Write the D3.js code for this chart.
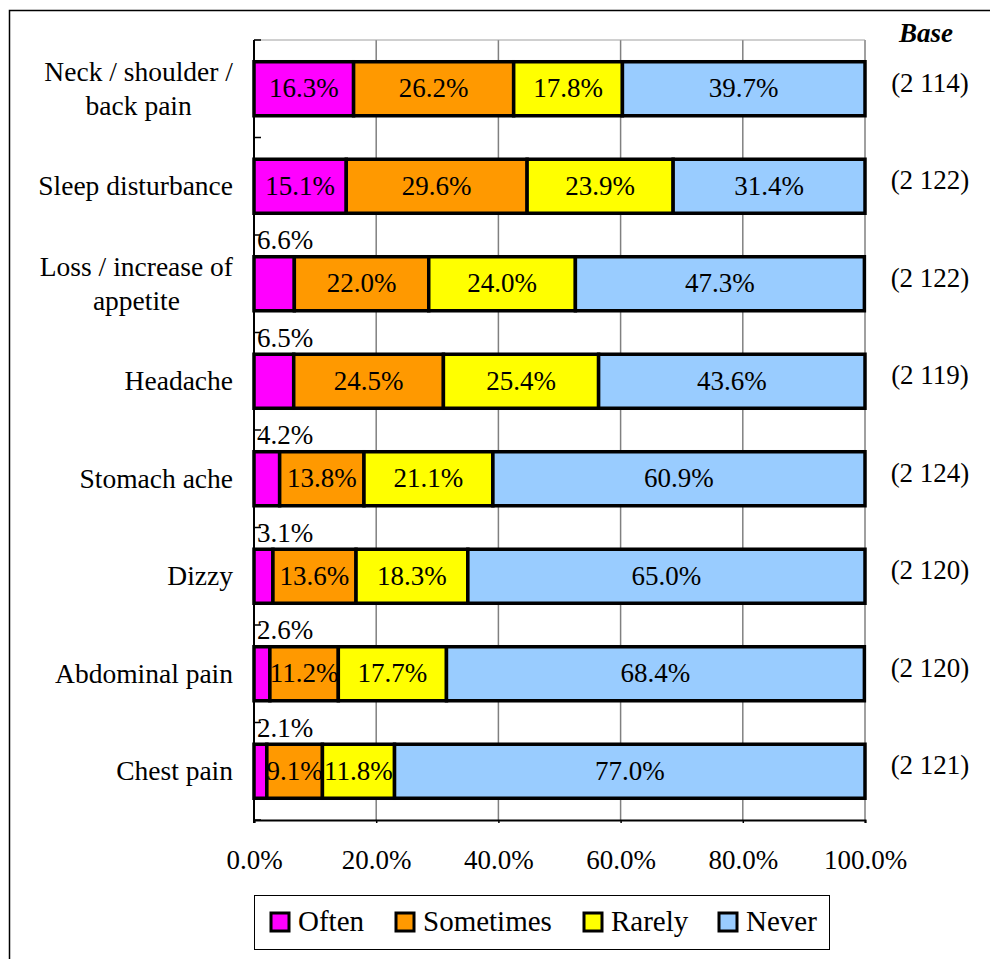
<!DOCTYPE html>
<html>
<head>
<meta charset="utf-8">
<script src="https://cdn.jsdelivr.net/npm/d3@7"></script>
<style>
  body { margin: 0; background: #fff; }
</style>
</head>
<body>
<svg id="chart" width="990" height="959" font-family="'Liberation Serif', 'DejaVu Serif', serif"></svg>
<script>
// categories (top to bottom), label lines split where the original wraps
let categories = ["Neck / shoulder / back pain", "Sleep disturbance", "Loss / increase of appetite",
    "Headache", "Stomach ache", "Dizzy", "Abdominal pain", "Chest pain"];
let labelLines = [["Neck / shoulder /", "back pain"], ["Sleep disturbance"], ["Loss / increase of", "appetite"],
    ["Headache"], ["Stomach ache"], ["Dizzy"], ["Abdominal pain"], ["Chest pain"]];

let often = [16.3, 15.1, 6.6, 6.5, 4.2, 3.1, 2.6, 2.1];
let sometimes = [26.2, 29.6, 22.0, 24.5, 13.8, 13.6, 11.2, 9.1];
let rarely = [17.8, 23.9, 24.0, 25.4, 21.1, 18.3, 17.7, 11.8];
let never = [39.7, 31.4, 47.3, 43.6, 60.9, 65.0, 68.4, 77.0];
let bases = ["(2 114)", "(2 122)", "(2 122)", "(2 119)", "(2 124)", "(2 120)", "(2 120)", "(2 121)"];

let seriesNames = ["Often", "Sometimes", "Rarely", "Never"];
let seriesColors = ["#FF00FF", "#FF9900", "#FFFF00", "#99CCFF"];
let xTicks = [0, 20, 40, 60, 80, 100];

let svg = d3.select("#chart");
let FONT = "'Liberation Serif', 'DejaVu Serif', serif";
let FS = 27;

// outer frame (only top and left edge fall inside the picture)
svg.append("rect")
    .attr("x", 9.5).attr("y", 10.5)
    .attr("width", 1000).attr("height", 1000)
    .attr("fill", "none")
    .attr("stroke", "#000")
    .attr("stroke-width", 1.5);

let margin = { left: 254, top: 40, right: 865, bottom: 820 };

let x = d3.scaleLinear().domain([0, 100]).range([margin.left, margin.right]);
let y = d3.scaleBand().domain(categories).range([margin.top, margin.bottom])
    .paddingInner(0.446).paddingOuter(0.223);

// rows as objects for the stack
let rows = categories.map(function (c, i) {
    return { cat: c, Often: often[i], Sometimes: sometimes[i], Rarely: rarely[i], Never: never[i] };
});
let stacked = d3.stack().keys(seriesNames)(rows);

// gridlines + plot frame
svg.append("g")
    .selectAll("line")
    .data(xTicks.slice(1))
    .enter().append("line")
    .attr("x1", d => x(d)).attr("x2", d => x(d))
    .attr("y1", margin.top).attr("y2", margin.bottom)
    .attr("stroke", "#808080")
    .attr("stroke-width", 1.5);

svg.append("line")
    .attr("x1", margin.left).attr("x2", margin.right)
    .attr("y1", margin.top).attr("y2", margin.top)
    .attr("stroke", "#a0a0a0");

// y axis with inner ticks at band edges
let step = y.step();
let edges = d3.range(categories.length + 1).map(i => margin.top + i * step);
svg.append("g")
    .selectAll("line")
    .data(edges)
    .enter().append("line")
    .attr("x1", margin.left).attr("x2", margin.left + 7)
    .attr("y1", d => d).attr("y2", d => d)
    .attr("stroke", "#000").attr("stroke-width", 1.5);
svg.append("line")
    .attr("x1", margin.left).attr("x2", margin.left)
    .attr("y1", margin.top).attr("y2", margin.bottom + 3)
    .attr("stroke", "#000").attr("stroke-width", 2);

// x axis
let xAxis = d3.axisBottom(x)
    .tickValues(xTicks)
    .tickSize(3)
    .tickPadding(27)
    .tickFormat(d => d3.format(".1f")(d) + "%");
let gx = svg.append("g")
    .attr("transform", "translate(0," + margin.bottom + ")")
    .call(xAxis);
gx.attr("font-family", FONT).attr("font-size", FS);
gx.select(".domain").attr("stroke", "#000").attr("stroke-width", 2);
gx.selectAll(".tick line").attr("stroke", "#000").attr("stroke-width", 1.5);
gx.selectAll("text").attr("fill", "#000");

// bars
let layers = svg.append("g")
    .selectAll("g")
    .data(stacked)
    .enter().append("g")
    .attr("fill", (d, i) => seriesColors[i]);

layers.selectAll("rect")
    .data(d => d)
    .enter().append("rect")
    .attr("x", d => x(d[0]))
    .attr("y", d => y(d.data.cat))
    .attr("width", d => x(d[1]) - x(d[0]))
    .attr("height", y.bandwidth())
    .attr("stroke", "#000")
    .attr("stroke-width", 3.5);

// value labels
layers.each(function (layer, li) {
    d3.select(this).selectAll("text")
        .data(layer)
        .enter().append("text")
        .attr("fill", "#000")
        .attr("font-size", FS)
        .attr("x", function (d) {
            let v = d[1] - d[0];
            if (li === 0 && v < 10) return x(0) + 3;
            return x((d[0] + d[1]) / 2);
        })
        .attr("y", function (d) {
            let v = d[1] - d[0];
            if (li === 0 && v < 10) return y(d.data.cat) - y.step() * 0.223 + 14;
            return y(d.data.cat) + y.bandwidth() / 2 + 8.5;
        })
        .attr("text-anchor", d => (li === 0 && d[1] - d[0] < 10) ? "start" : "middle")
        .text(d => d3.format(".1f")(d[1] - d[0]) + "%");
});

// category labels: block right-aligned, lines centred inside block
labelLines.forEach(function (lines, i) {
    let cy = y(categories[i]) + y.bandwidth() / 2;
    let g = svg.append("g");
    let texts = lines.map(function (l, j) {
        return g.append("text")
            .attr("font-size", 27.5)
            .attr("text-anchor", "middle")
            .attr("y", cy + 9 + (j - (lines.length - 1) / 2) * 34)
            .text(l);
    });
    let w = d3.max(texts, t => t.node().getComputedTextLength());
    texts.forEach(t => t.attr("x", 233 - w / 2));
});

// base column
svg.append("text")
    .attr("x", 926).attr("y", 42)
    .attr("text-anchor", "middle")
    .attr("font-size", FS)
    .attr("font-weight", "bold")
    .attr("font-style", "italic")
    .text("Base");

svg.append("g")
    .selectAll("text")
    .data(bases)
    .enter().append("text")
    .attr("x", 930)
    .attr("y", (d, i) => y(categories[i]) + y.bandwidth() / 2 + 3)
    .attr("text-anchor", "middle")
    .attr("font-size", FS)
    .text(d => d);

// legend
svg.append("rect")
    .attr("x", 254.5).attr("y", 895.5)
    .attr("width", 575).attr("height", 54)
    .attr("fill", "#fff")
    .attr("stroke", "#000")
    .attr("stroke-width", 1);

let legendX = [271, 396, 584, 719];
let lg = svg.append("g")
    .selectAll("g")
    .data(seriesNames)
    .enter().append("g")
    .attr("transform", (d, i) => "translate(" + legendX[i] + ",913)");
lg.append("rect")
    .attr("width", 18).attr("height", 18)
    .attr("fill", (d, i) => seriesColors[i])
    .attr("stroke", "#000")
    .attr("stroke-width", 3);
lg.append("text")
    .attr("x", 27).attr("y", 18)
    .attr("font-size", 29)
    .text(d => d);
</script>
</body>
</html>
